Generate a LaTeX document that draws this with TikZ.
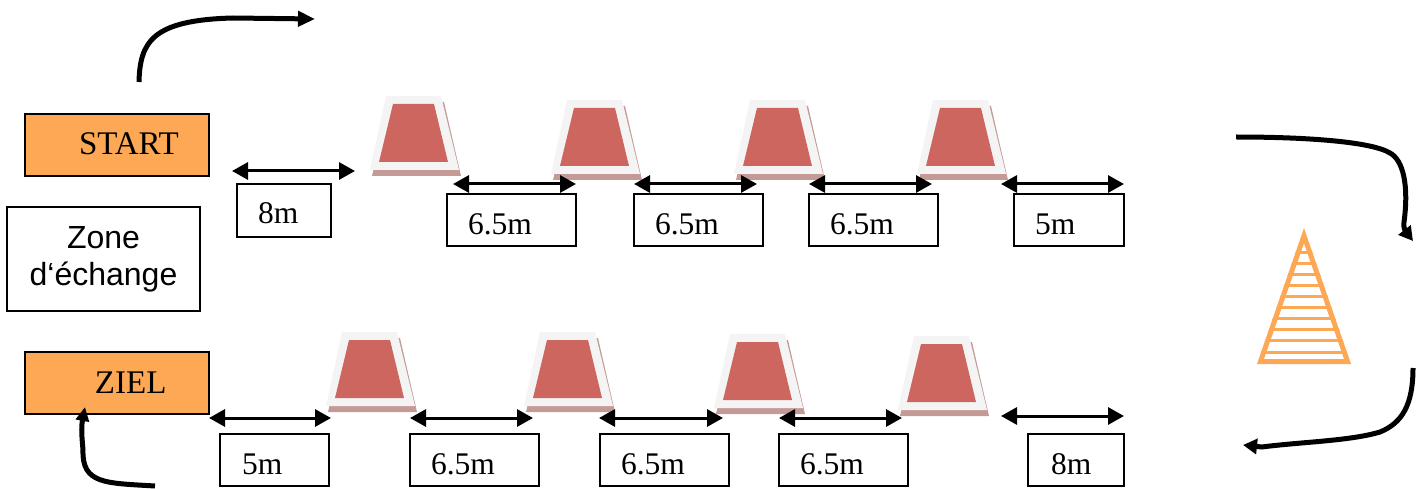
\documentclass[tikz,border=0pt]{standalone}
\usepackage{fontspec}
\setmainfont{Liberation Serif}
\newfontfamily\arialfont{Liberation Sans}
\usetikzlibrary{arrows.meta}
\definecolor{coneorange}{HTML}{FDA855}
\definecolor{coneouter}{HTML}{F4F4F4}
\definecolor{coneinner}{HTML}{CD665E}
\definecolor{coneshadow}{HTML}{C49A96}
\tikzset{
  x=1pt,y=-1pt,
  txt/.style={font=\fontsize{31.5pt}{37pt}\selectfont},
  lenbox/.style n args={3}{txt,draw=black,line width=2pt,fill=white,inner sep=0pt,outer sep=0pt,anchor=north west,
    text width=#1pt,align=left,text height=40pt,text depth=#2pt,
    execute at begin node={\hspace*{#3pt}}},
  endbox/.style={font=\fontsize{33pt}{37pt}\selectfont,draw=black,line width=2pt,fill=coneorange,inner sep=0pt,outer sep=0pt,anchor=north west,
    text width=184pt,align=left,text height=41pt,text depth=21pt,
    execute at begin node={\hspace*{#1pt}}},
  dimarrow/.style={line width=3pt,{Triangle[length=16pt,width=17pt]}-{Triangle[length=16pt,width=17pt]}},
  routearrow/.style={line width=5pt,-{Triangle[length=17pt,width=15pt]}},
  traffic/.pic={
    \fill[coneshadow] (389,102) -- (444,102) -- (461,176) -- (372,176) -- cycle;
    \fill[coneouter] (386,96) -- (441,96) -- (459,170) -- (370,170) -- cycle;
    \fill[coneinner] (393,104) -- (434,104) -- (448,162) -- (379,162) -- cycle;
  }
}
\begin{document}
\begin{tikzpicture}
\useasboundingbox (0,0) rectangle (1424,489);
% cones, top row
\pic (t1) at (0,0) {traffic};
\pic (t2) at (181,4) {traffic};
\pic (t3) at (364,4) {traffic};
\pic (t4) at (547,4) {traffic};
% cones, bottom row
\pic (b1) at (-44,236) {traffic};
\pic (b2) at (154,236) {traffic};
\pic (b3) at (344,238) {traffic};
\pic (b4) at (528,240) {traffic};
% end boxes
\node[endbox=54] (start) at (25,114) {START};
\node[endbox=70] (ziel) at (25,352) {ZIEL};
\node[draw=black,line width=2pt,inner sep=0pt,outer sep=0pt,minimum width=193pt,minimum height=104pt,anchor=north west,
  align=center,font=\arialfont\fontsize{32pt}{37pt}\selectfont] (zone) at (7,207) {Zone\\d‘échange};
% length boxes, top row
\node[lenbox={94}{13}{21}] (l1) at (237,184) {8m};
\node[lenbox={129}{12}{21}] (l2) at (447,194) {6.5m};
\node[lenbox={129}{12}{21}] (l3) at (634,194) {6.5m};
\node[lenbox={129}{12}{21}] (l4) at (809,194) {6.5m};
\node[lenbox={110}{12}{21}] (l5) at (1014,194) {5m};
% length boxes, bottom row
\node[lenbox={109}{12}{22}] (m1) at (220,434) {5m};
\node[lenbox={129}{12}{21}] (m2) at (410,434) {6.5m};
\node[lenbox={129}{12}{21}] (m3) at (600,434) {6.5m};
\node[lenbox={129}{12}{21}] (m4) at (779,434) {6.5m};
\node[lenbox={96}{12}{23}] (m5) at (1028,434) {8m};
% dimension arrows
\coordinate (a1) at (232,171); \coordinate (a2) at (355,171);
\coordinate (a3) at (453,184); \coordinate (a4) at (576,184);
\coordinate (a5) at (634,184); \coordinate (a6) at (757,184);
\coordinate (a7) at (809,184); \coordinate (a8) at (932,184);
\coordinate (a9) at (1001,184); \coordinate (a10) at (1124,184);
\coordinate (c1) at (209,418); \coordinate (c2) at (331,418);
\coordinate (c3) at (410,418); \coordinate (c4) at (533,418);
\coordinate (c5) at (599,418); \coordinate (c6) at (723,418);
\coordinate (c7) at (779,418); \coordinate (c8) at (902,418);
\coordinate (c9) at (1001,416); \coordinate (c10) at (1124,416);
\draw[dimarrow] (a1) -- (a2);
\draw[dimarrow] (a3) -- (a4);
\draw[dimarrow] (a5) -- (a6);
\draw[dimarrow] (a7) -- (a8);
\draw[dimarrow] (a9) -- (a10);
\draw[dimarrow] (c1) -- (c2);
\draw[dimarrow] (c3) -- (c4);
\draw[dimarrow] (c5) -- (c6);
\draw[dimarrow] (c7) -- (c8);
\draw[dimarrow] (c9) -- (c10);
% route arrows
\coordinate (r1s) at (139,82); \coordinate (r1m) at (233,18); \coordinate (r1e) at (315,19);
\coordinate (r2s) at (1236,137); \coordinate (r2m) at (1390,153); \coordinate (r2e) at (1413,241);
\coordinate (r3s) at (1413,368); \coordinate (r3m) at (1380,432); \coordinate (r3e) at (1243,445);
\coordinate (r4s) at (155,486); \coordinate (r4m) at (83,450); \coordinate (r4e) at (85,407);
\draw[routearrow] (r1s) .. controls (140,42) and (152,20) .. (r1m) -- (r1e);
\draw[routearrow,-{Triangle[length=14pt,width=15pt]}] (r2s) .. controls (1310,137) and (1372,142) .. (r2m) .. controls (1403,160) and (1409,185) .. (1404,222) .. controls (1403,228) and (1406,232) .. (r2e);
\draw[routearrow,-{Triangle[length=14pt,width=15pt]}] (r3s) .. controls (1413,405) and (1402,423) .. (r3m) .. controls (1350,441) and (1300,442) .. (1262,447) -- (r3e);
\draw[routearrow,-{Triangle[length=14pt,width=13pt]}] (r4s) .. controls (105,483) and (82,484) .. (r4m) .. controls (82,438) and (81,428) .. (r4e);
% orange cone
\begin{scope}
\clip (1304,228) -- (1351,364) -- (1257,364) -- cycle;
\foreach \yy in {252,263,274,285,296,307,318,329,340,352}
  \draw[coneorange,line width=3pt] (1250,\yy) -- (1360,\yy);
\end{scope}
\draw[coneorange,line width=5pt,line join=miter] (1304,235.7) -- (1347.5,361.5) -- (1260.5,361.5) -- cycle;
\end{tikzpicture}
\end{document}
